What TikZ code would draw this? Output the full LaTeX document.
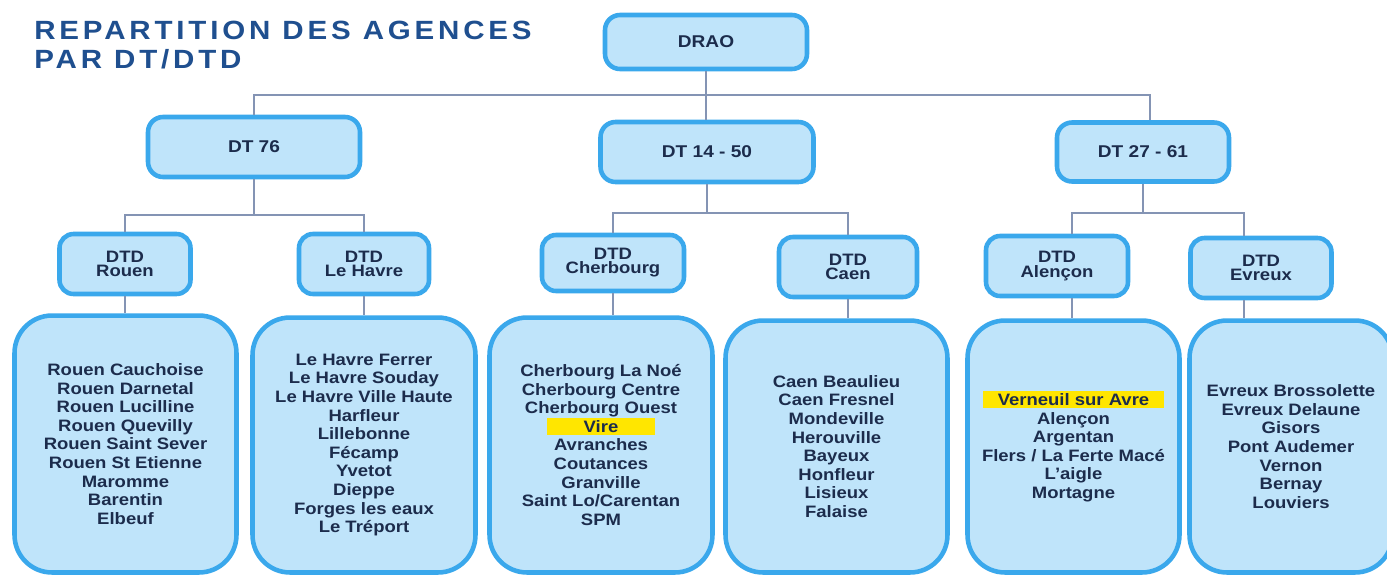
\documentclass[tikz,border=0pt]{standalone}
\usepackage{fontspec}
\setmainfont{Liberation Sans}[FakeStretch=1.12]
\newfontfamily\titlefont{Liberation Sans}[FakeStretch=1.12,LetterSpace=14.5]
\usepackage{tikz}
\definecolor{boxfill}{HTML}{BFE4FA}
\definecolor{boxline}{HTML}{3AA8EC}
\definecolor{linkgray}{HTML}{8494B4}
\definecolor{textnavy}{HTML}{1C2C4C}
\definecolor{titleblue}{HTML}{1F4F8F}
\definecolor{markyellow}{HTML}{FFE600}
\newcommand{\marked}[2]{{\setlength{\fboxsep}{1.5pt}\colorbox{markyellow}{\makebox[#1]{#2}}}}

\begin{document}
\begin{tikzpicture}[x=0.02cm, y=-0.02cm,
  dtbox/.style={draw=boxline, fill=boxfill, line width=2.6pt, rounded corners=0.3cm, inner sep=0pt, text=textnavy, font=\fontsize{9.7}{11}\selectfont\bfseries},
  dtdbox/.style={draw=boxline, fill=boxfill, line width=2.6pt, rounded corners=0.28cm, inner sep=0pt, align=center, text=textnavy, font=\fontsize{9.4}{8}\selectfont\bfseries},
  agbox/.style={draw=boxline, fill=boxfill, line width=2.6pt, rounded corners=0.75cm, inner sep=0pt, align=center, text=textnavy, font=\fontsize{9.4}{10.6}\selectfont\bfseries},
  link/.style={draw=linkgray, line width=1pt}]
\useasboundingbox (0,0) rectangle (1387,576);
\clip (0,0) rectangle (1387,576);
\fill[white] (0,0) rectangle (1387,576);
\node[anchor=north west, inner sep=0pt, align=left, text=titleblue, font=\fontsize{15}{16.4}\selectfont\titlefont\bfseries] (title) at (34,21) {REPARTITION DES AGENCES\\PAR DT/DTD};
\node[dtbox, minimum width=4.04cm, minimum height=1.08cm] (drao) at (706,42) {DRAO};
\node[dtbox, minimum width=4.24cm, minimum height=1.2cm] (dt76) at (254,147) {DT 76};
\node[dtbox, minimum width=4.26cm, minimum height=1.2cm] (dt1450) at (707,152) {DT 14 - 50};
\node[dtbox, minimum width=3.44cm, minimum height=1.18cm] (dt2761) at (1143,152) {DT 27 - 61};
\node[dtdbox, minimum width=2.62cm, minimum height=1.2cm] (rouen) at (125,264) {DTD\\Rouen};
\node[dtdbox, minimum width=2.6cm, minimum height=1.2cm] (havre) at (364,264) {DTD\\Le Havre};
\node[dtdbox, minimum width=2.84cm, minimum height=1.12cm] (cherbourg) at (613,263) {DTD\\Cherbourg};
\node[dtdbox, minimum width=2.76cm, minimum height=1.2cm] (caen) at (848,267) {DTD\\Caen};
\node[dtdbox, minimum width=2.84cm, minimum height=1.2cm] (alencon) at (1057,266) {DTD\\Alençon};
\node[dtdbox, minimum width=2.82cm, minimum height=1.2cm] (evreux) at (1261,268) {DTD\\Evreux};
\node[agbox, minimum width=4.44cm, minimum height=5.14cm] (agRouen) at (125.5,444) {Rouen Cauchoise\\Rouen Darnetal\\Rouen Lucilline\\Rouen Quevilly\\Rouen Saint Sever\\Rouen St Etienne\\Maromme\\Barentin\\Elbeuf};
\node[agbox, minimum width=4.46cm, minimum height=5.1cm] (agHavre) at (364,445) {Le Havre Ferrer\\Le Havre Souday\\Le Havre Ville Haute\\Harfleur\\Lillebonne\\Fécamp\\Yvetot\\Dieppe\\Forges les eaux\\Le Tréport};
\node[agbox, minimum width=4.46cm, minimum height=5.1cm] (agCherbourg) at (601,445) {Cherbourg La Noé\\Cherbourg Centre\\Cherbourg Ouest\\\marked{58pt}{Vire}\\Avranches\\Coutances\\Granville\\Saint Lo/Carentan\\SPM};
\node[agbox, minimum width=4.44cm, minimum height=5.04cm] (agCaen) at (836.5,446.5) {Caen Beaulieu\\Caen Fresnel\\Mondeville\\Herouville\\Bayeux\\Honfleur\\Lisieux\\Falaise};
\node[agbox, minimum width=4.24cm, minimum height=5.04cm] (agAlencon) at (1073.5,446.5) {\marked{100pt}{Verneuil sur Avre}\\Alençon\\Argentan\\Flers / La Ferte Macé\\L'aigle\\Mortagne};
\node[agbox, minimum width=4.06cm, minimum height=5.04cm] (agEvreux) at (1291,446.5) {Evreux Brossolette\\Evreux Delaune\\Gisors\\Pont Audemer\\Vernon\\Bernay\\Louviers};
\coordinate (bar) at (0,95);
\coordinate (b76) at (0,215);
\coordinate (b1450) at (0,213);
\coordinate (b2761) at (0,213);
\coordinate (cTop) at (1150,0);
\coordinate (cAlencon) at (1072,0);
\coordinate (cEvreux) at (1244,0);
\draw[link] (drao.south) -- (drao.south |- dt1450.north);
\draw[link] (dt76.north) -- (dt76.north |- bar) -| (cTop |- dt2761.north);
\draw[link] (dt76.south) -- (dt76.south |- b76);
\draw[link] (rouen.north) -- (rouen.north |- b76) -| (havre.north);
\draw[link] (rouen.south) -- (rouen.south |- agRouen.north);
\draw[link] (havre.south) -- (havre.south |- agHavre.north);
\draw[link] (dt1450.south) -- (dt1450.south |- b1450);
\draw[link] (cherbourg.north) -- (cherbourg.north |- b1450) -| (caen.north);
\draw[link] (cherbourg.south) -- (cherbourg.south |- agCherbourg.north);
\draw[link] (caen.south) -- (caen.south |- agCaen.north);
\draw[link] (dt2761.south) -- (dt2761.south |- b2761);
\draw[link] (cAlencon |- alencon.north) -- (cAlencon |- b2761) -| (cEvreux |- evreux.north);
\draw[link] (cAlencon |- alencon.south) -- (cAlencon |- agAlencon.north);
\draw[link] (cEvreux |- evreux.south) -- (cEvreux |- agEvreux.north);
\end{tikzpicture}
\end{document}
